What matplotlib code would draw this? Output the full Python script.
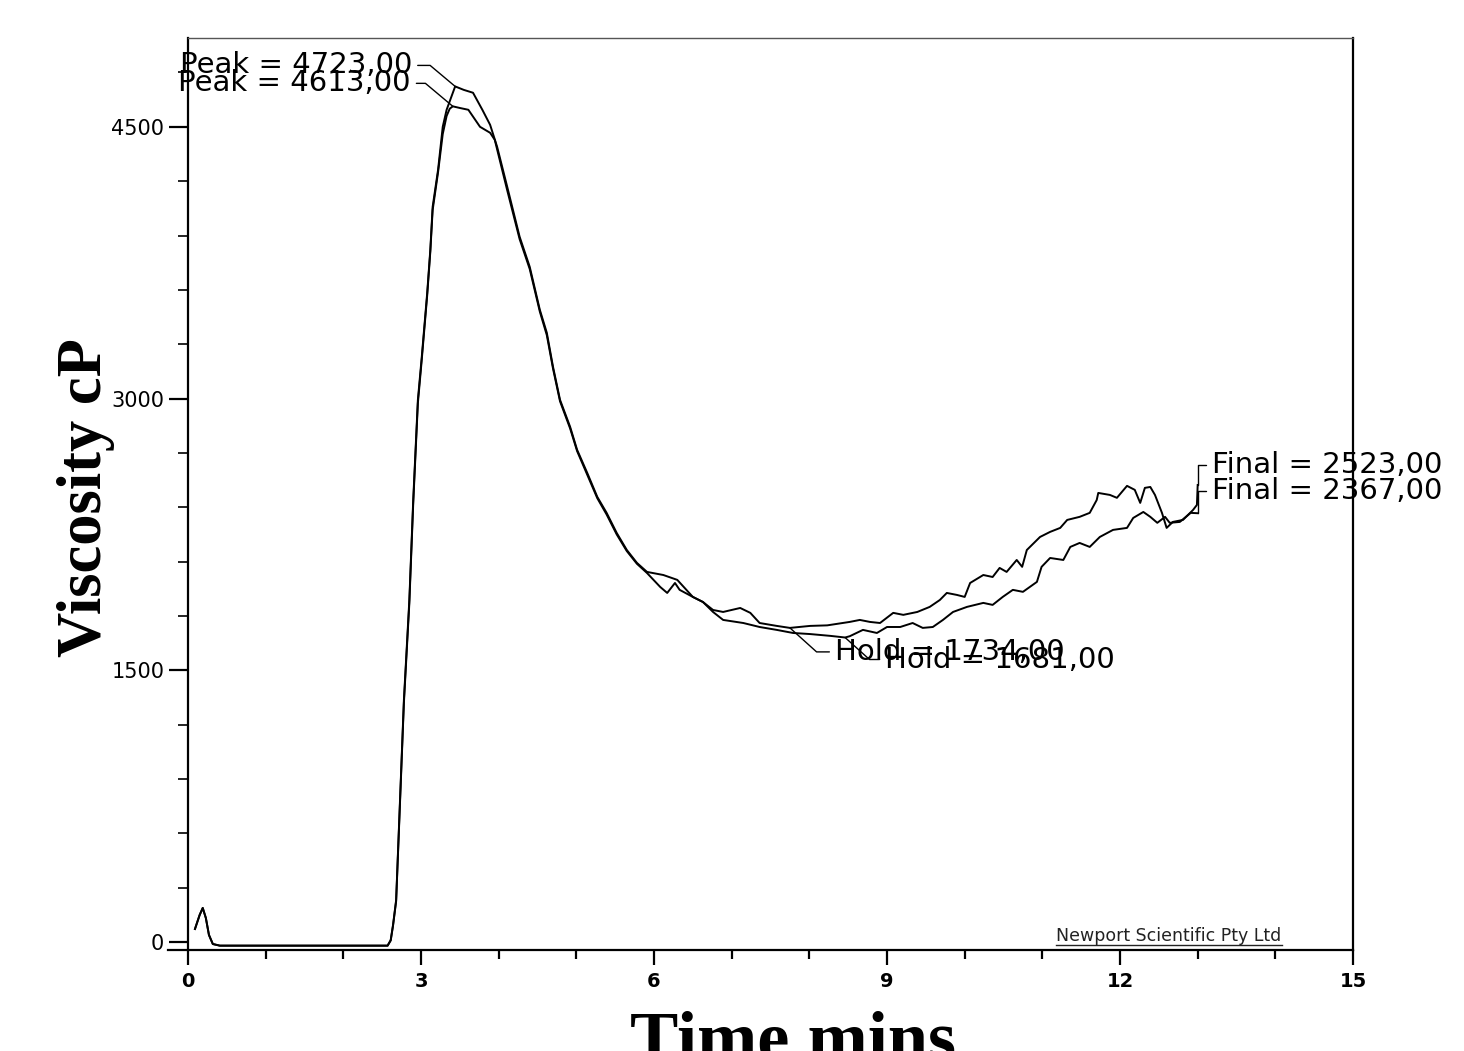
import matplotlib
matplotlib.use("Agg")
import matplotlib.pyplot as plt
from matplotlib.ticker import MultipleLocator
import numpy as np

# 資料: two RVA pasting runs (time in min, viscosity in cP)
t1 = [0.09, 0.15, 0.19, 0.23, 0.27, 0.32, 0.41, 0.67, 1.44, 2.21,
      2.57, 2.61, 2.64, 2.68, 2.73, 2.78, 2.85, 2.90, 2.96, 3.01,
      3.08, 3.12, 3.15, 3.22, 3.28, 3.33, 3.44, 3.55, 3.67, 3.79,
      3.89, 3.98, 4.11, 4.27, 4.40, 4.53, 4.62, 4.70, 4.79, 4.92,
      5.01, 5.14, 5.27, 5.39, 5.52, 5.65, 5.78, 5.91, 6.12, 6.30,
      6.50, 6.63, 6.76, 6.89, 7.11, 7.24, 7.36, 7.58, 7.75, 8.01,
      8.23, 8.52, 8.65, 8.78, 8.91, 9.08, 9.21, 9.39, 9.55, 9.68,
      9.77, 9.90, 10.00, 10.07, 10.24, 10.36, 10.45, 10.54, 10.67, 10.74,
      10.80, 10.97, 11.10, 11.23, 11.32, 11.48, 11.61, 11.70, 11.72, 11.87,
      11.96, 12.09, 12.19, 12.26, 12.32, 12.39, 12.45, 12.54, 12.60, 12.68,
      12.81, 12.94, 12.99, 13.00]
v1 = [72, 149, 188, 133, 39, -11, -20, -20, -20, -20,
      -20, 11, 94, 232, 784, 1336, 1888, 2440, 2993, 3230,
      3583, 3821, 4058, 4263, 4500, 4594, 4723, 4704, 4688, 4594,
      4511, 4390, 4169, 3893, 3727, 3490, 3363, 3175, 2993, 2844,
      2717, 2590, 2457, 2369, 2258, 2164, 2093, 2043, 2026, 1999,
      1905, 1877, 1833, 1822, 1844, 1817, 1761, 1745, 1734, 1745,
      1748, 1767, 1778, 1767, 1761, 1817, 1806, 1822, 1850, 1888,
      1927, 1916, 1905, 1982, 2026, 2015, 2065, 2043, 2109, 2071,
      2164, 2236, 2264, 2286, 2330, 2347, 2369, 2440, 2479, 2468,
      2452, 2518, 2496, 2424, 2507, 2512, 2468, 2369, 2286, 2319,
      2330, 2385, 2413, 2523]

t2 = [0.09, 0.15, 0.19, 0.23, 0.27, 0.32, 0.41, 0.67, 1.44, 2.21,
      2.57, 2.61, 2.64, 2.68, 2.73, 2.78, 2.85, 2.90, 2.96, 3.01,
      3.08, 3.12, 3.15, 3.22, 3.28, 3.33, 3.37, 3.41, 3.50, 3.61,
      3.76, 3.89, 3.95, 4.11, 4.27, 4.40, 4.53, 4.62, 4.70, 4.79,
      4.92, 5.01, 5.14, 5.27, 5.39, 5.52, 5.65, 5.78, 5.91, 6.08,
      6.17, 6.27, 6.33, 6.50, 6.63, 6.76, 6.89, 7.15, 7.36, 7.58,
      7.79, 8.01, 8.27, 8.46, 8.52, 8.69, 8.87, 9.00, 9.17, 9.33,
      9.46, 9.59, 9.72, 9.85, 10.03, 10.24, 10.36, 10.49, 10.62, 10.75,
      10.93, 10.99, 11.10, 11.27, 11.36, 11.48, 11.61, 11.74, 11.91, 12.09,
      12.17, 12.30, 12.39, 12.48, 12.58, 12.64, 12.77, 12.91, 13.00]
v2 = [72, 149, 188, 133, 39, -11, -20, -20, -20, -20,
      -20, 8, 90, 225, 770, 1320, 1870, 2420, 2975, 3215,
      3570, 3810, 4040, 4250, 4460, 4560, 4600, 4613, 4604, 4594,
      4500, 4467, 4428, 4150, 3880, 3715, 3480, 3350, 3165, 2985,
      2835, 2710, 2580, 2450, 2360, 2250, 2158, 2088, 2037, 1960,
      1927, 1982, 1944, 1905, 1877, 1822, 1778, 1761, 1739, 1723,
      1706, 1700, 1690, 1681, 1688, 1723, 1706, 1739, 1739, 1761,
      1734, 1739, 1778, 1822, 1850, 1872, 1861, 1905, 1944, 1933,
      1988, 2071, 2120, 2109, 2181, 2203, 2181, 2236, 2275, 2286,
      2341, 2374, 2347, 2314, 2347, 2314, 2319, 2369, 2367]

x_ticks = [0, 3, 6, 9, 12, 15]
y_ticks = [0, 1500, 3000, 4500]

fig = plt.figure(figsize=(14.64, 10.51), dpi=100)
ax = fig.add_axes([0.1284, 0.0961, 0.7958, 0.8677])

for t, v in ((t1, v1), (t2, v2)):
    ax.plot(t, v, color='black', lw=1.4)

ax.set_xlim(0, 15)
ax.set_ylim(-44, 4990)
ax.set_xticks(x_ticks)
ax.set_yticks(y_ticks)
ax.xaxis.set_minor_locator(MultipleLocator(1))
ax.yaxis.set_minor_locator(MultipleLocator(300))
ax.tick_params(axis='x', which='major', length=11, width=1.6, pad=5, labelsize=14)
ax.tick_params(axis='x', which='minor', length=6.5, width=1.6)
ax.tick_params(axis='y', which='major', length=14, width=1.6, pad=3, labelsize=15)
ax.tick_params(axis='y', which='minor', length=7, width=1.2)
for lbl in ax.get_xticklabels():
    lbl.set_fontweight('bold')

for side in ('left', 'bottom', 'right'):
    ax.spines[side].set_linewidth(1.6)
ax.spines['top'].set_linewidth(1.0)
ax.spines['top'].set_color('#555555')
ax.spines['bottom'].set_bounds(-0.26, 15)

# axis titles
fig.text(0.0587, 0.527, 'Viscosity cP', rotation=90, ha='center', va='center',
         family='Liberation Serif', weight='bold', fontsize=45)
fig.text(0.5417, -0.0086, 'Time mins', ha='center', va='baseline',
         family='Liberation Serif', weight='bold', fontsize=52)


def lab(name, val):
    return f"{name} = {val:.2f}".replace('.', ',')


# peak / hold / final annotations
peak_off = [(-43, 21), (-42, 23)]
hold_off = [(45, -24), (40, -22)]
final_off = [(14, 20), (14, 22)]
for i, (t, v) in enumerate(((t1, v1), (t2, v2))):
    t = np.array(t)
    v = np.array(v)
    ip = int(np.argmax(v))
    after = np.where(t > t[ip])[0]
    ih = after[int(np.argmin(v[after]))]
    ax.annotate(lab('Peak', v[ip]), xy=(t[ip], v[ip]), xytext=peak_off[i],
                textcoords='offset pixels', ha='right', va='center', fontsize=21,
                arrowprops=dict(arrowstyle='-', color='black', lw=1, relpos=(1, 0.5),
                                connectionstyle='angle,angleA=0,angleB=-40,rad=0', shrinkB=0))
    ax.annotate(lab('Hold', v[ih]), xy=(t[ih], v[ih]), xytext=hold_off[i],
                textcoords='offset pixels', ha='left', va='center', fontsize=21,
                arrowprops=dict(arrowstyle='-', color='black', lw=1, relpos=(0, 0.5),
                                connectionstyle='angle,angleA=0,angleB=-42,rad=0', shrinkB=0))
    ax.annotate(lab('Final', v[-1]), xy=(t[-1], v[-1]), xytext=final_off[i],
                textcoords='offset pixels', ha='left', va='center', fontsize=21,
                arrowprops=dict(arrowstyle='-', color='black', lw=1, relpos=(0, 0.5),
                                connectionstyle='angle,angleA=0,angleB=90,rad=0', shrinkB=0))

wm = ax.text(0.842, 0.0099, 'Newport Scientific Pty Ltd', transform=ax.transAxes,
             ha='center', va='baseline', fontsize=12.5, color='#222222')
fig.canvas.draw()
bb = wm.get_window_extent().transformed(ax.transAxes.inverted())
ax.plot([bb.x0, bb.x1], [0.0055, 0.0055], transform=ax.transAxes, color='#222222', lw=1)

fig.savefig('out.png', dpi=100)
